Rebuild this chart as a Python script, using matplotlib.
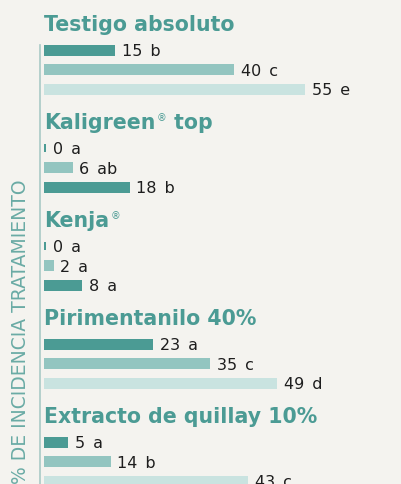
import matplotlib
matplotlib.use("Agg")
import matplotlib.pyplot as plt

# DATA
tratamientos = [
    "Testigo absoluto",
    "Kaligreen\u00ae top",
    "Kenja\u00ae",
    "Pirimentanilo 40%",
    "Extracto de quillay 10%",
]
valores = [
    [15, 40, 55],
    [0, 6, 18],
    [0, 2, 8],
    [23, 35, 49],
    [5, 14, 43],
]
letras = [
    ["b", "c", "e"],
    ["a", "ab", "b"],
    ["a", "a", "a"],
    ["a", "c", "d"],
    ["a", "b", "c"],
]
# colour index per bar (0 dark, 1 medium, 2 light) as printed in the source
tonos = [
    [0, 1, 2],
    [0, 1, 0],
    [0, 1, 0],
    [0, 1, 2],
    [0, 1, 2],
]
eje_y = "% DE INCIDENCIA TRATAMIENTO"

# STYLE
fondo = "#f4f3ef"
teal = "#4b9b94"
paleta = ["#4b9b94", "#93c5c0", "#c9e3e0"]
texto = "#1e1e1e"

W, H = 402, 484
x0 = 44          # px where value 0 sits
px_unit = 4.75   # px per % unit

fig = plt.figure(figsize=(W / 100, H / 100), dpi=100, facecolor=fondo)
ax = fig.add_axes([0, 0, 1, 1])
ax.set_facecolor(fondo)
ax.set_xlim(-x0 / px_unit, (W - x0) / px_unit)
ax.set_ylim(H, 0)
ax.axis("off")
renderer = fig.canvas.get_renderer()

# left rule
ax.plot([-4 / px_unit, -4 / px_unit], [45, H], color="#a9c9c5", lw=1.2)


def titulo(x, y, s):
    # title with a small raised registered mark
    partes = s.split("\u00ae")
    kw = dict(color=teal, fontsize=14.8, fontweight="bold", family="DejaVu Sans",
              va="center", ha="left")
    t = ax.text(x, y, partes[0], **kw)
    if len(partes) == 1:
        return
    bb = t.get_window_extent(renderer).transformed(ax.transData.inverted())
    r = ax.text(bb.x1 + 0.2, y - 5, "\u00ae", color=teal, fontsize=7,
                family="DejaVu Sans", va="center", ha="left")
    if partes[1]:
        bb = r.get_window_extent(renderer).transformed(ax.transData.inverted())
        ax.text(bb.x1, y, partes[1], **kw)


for i, nombre in enumerate(tratamientos):
    y_t = 25 + 98 * i
    titulo(0.1, y_t, nombre)
    for j, (v, l, t) in enumerate(zip(valores[i], letras[i], tonos[i])):
        y_b = y_t + 25 + 19.5 * j
        h = 11 if v > 0 else 8
        ax.barh(y_b, max(v, 0.45), height=h, left=0, color=paleta[t], lw=0)
        ax.annotate(f"{v}\u2002{l}", (max(v, 0.45), y_b + 1.5), xytext=(5, 0),
                    textcoords="offset points", va="center", ha="left",
                    fontsize=11.5, family="DejaVu Sans", color=texto)

ax.text(-23 / px_unit, 332, eje_y, rotation=90, color="#6aaba5", fontsize=13.5,
        family="DejaVu Sans", va="center", ha="center")

fig.savefig("out.png", dpi=100, facecolor=fondo)
